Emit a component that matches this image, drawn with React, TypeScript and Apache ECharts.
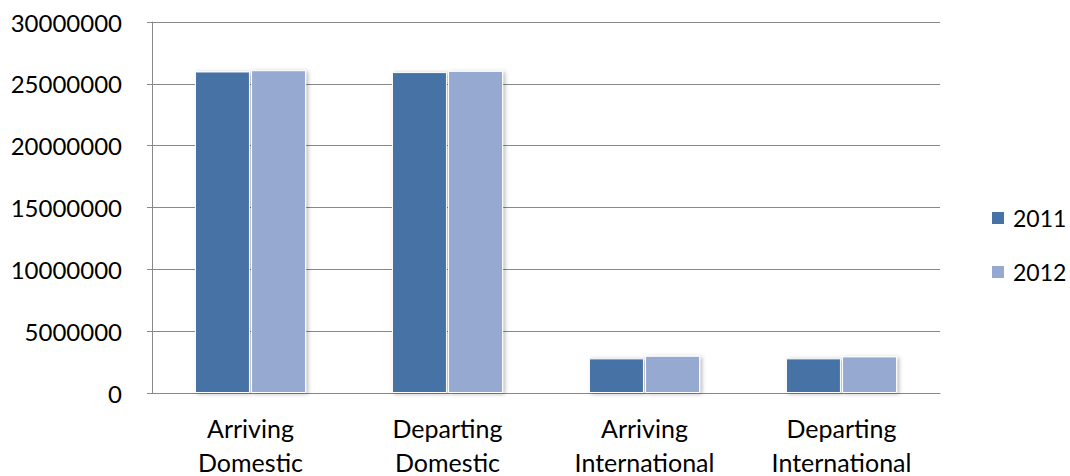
import React, { useEffect, useRef } from "react";
import * as echarts from "echarts";

// Passenger traffic by movement type
const categories = [
  "Arriving\nDomestic",
  "Departing\nDomestic",
  "Arriving\nInternational",
  "Departing\nInternational",
];
const values2011 = [26000000, 25950000, 2800000, 2800000];
const values2012 = [26100000, 26050000, 3010000, 2960000];
const seriesNames = ["2011", "2012"];
const seriesColors = ["#4672A6", "#95A9D1"];

const FONT = "Lato";

export default function App() {
  const ref = useRef<HTMLDivElement>(null);

  useEffect(() => {
    if (!ref.current) return;
    const chart = echarts.init(ref.current, null, { renderer: "svg" });

    const barStyle = (color: string) => ({
      color,
      borderColor: "#ffffff",
      borderWidth: 1,
      shadowBlur: 4,
      shadowColor: "rgba(0,0,0,0.28)",
      shadowOffsetX: 2,
      shadowOffsetY: 1,
    });

    chart.setOption({
      animation: false,
      backgroundColor: "#ffffff",
      grid: {
        left: 152,
        top: 22,
        width: 788,
        height: 371,
        containLabel: false,
        outerBoundsMode: "none",
      },
      legend: {
        orient: "vertical",
        left: 987,
        top: 201,
        itemWidth: 12,
        itemHeight: 12,
        itemGap: 30,
        icon: "rect",
        itemStyle: { borderWidth: 0, shadowBlur: 0, shadowOffsetX: 0, shadowOffsetY: 0 },
        textStyle: {
          fontFamily: FONT,
          fontSize: 23,
          lineHeight: 24,
          color: "#000",
          padding: [0, 0, 0, 4],
        },
        data: seriesNames,
      },
      xAxis: {
        type: "category",
        data: categories,
        axisLine: { show: true, lineStyle: { color: "#888888", width: 1 } },
        axisTick: { show: false },
        axisLabel: {
          fontFamily: FONT,
          fontSize: 25,
          lineHeight: 34,
          color: "#000",
          margin: 18,
          interval: 0,
        },
      },
      yAxis: {
        type: "value",
        min: 0,
        max: 30000000,
        interval: 5000000,
        axisLine: { show: true, lineStyle: { color: "#888888", width: 1 } },
        axisTick: { show: true, length: 5, lineStyle: { color: "#888888" } },
        splitLine: { show: true, lineStyle: { color: "#888888", width: 1 } },
        axisLabel: {
          fontFamily: FONT,
          fontSize: 24,
          color: "#000",
          margin: 30,
          formatter: (v: number) => String(v),
        },
      },
      series: [
        {
          name: seriesNames[0],
          type: "bar",
          data: values2011,
          barWidth: 55,
          barGap: "2%",
          itemStyle: barStyle(seriesColors[0]),
        },
        {
          name: seriesNames[1],
          type: "bar",
          data: values2012,
          barWidth: 55,
          itemStyle: barStyle(seriesColors[1]),
        },
      ],
    });

    return () => chart.dispose();
  }, []);

  return <div ref={ref} style={{ width: 1070, height: 476, position: "absolute", left: 0, top: 0 }} />;
}
